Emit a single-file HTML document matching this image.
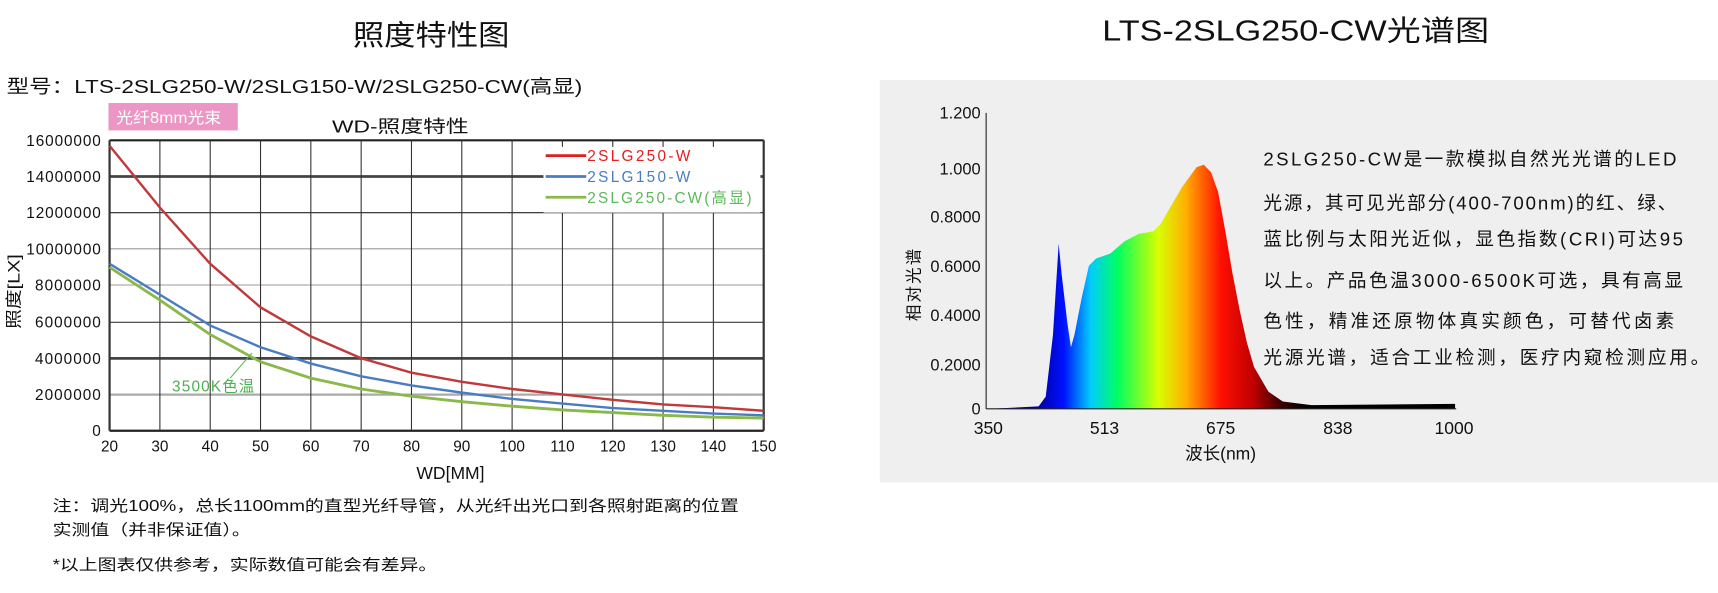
<!DOCTYPE html>
<html><head><meta charset="utf-8"><style>
body{margin:0;width:1718px;height:593px;overflow:hidden;background:#fff;font-family:"Liberation Sans","Noto Sans CJK SC",sans-serif}
#w{position:absolute;left:0;top:0;width:1568px;height:541px;transform:scale(1.0957,1.0961);transform-origin:0 0}
.t{position:absolute;white-space:nowrap;color:#111;transform-origin:0 0}
</style></head><body><div id="w">
<div class="t" style="left:322px;top:12px;font-size:26px;transform:scaleX(1.1)">照度特性图</div>
<div class="t" style="left:1006px;top:8px;font-size:26px;transform:scaleX(1.2)">LTS-2SLG250-CW光谱图</div>
<div class="t" style="left:6px;top:65px;font-size:17px;transform:scaleX(1.21)">型号：LTS-2SLG250-W/2SLG150-W/2SLG250-CW(高显)</div>
<div style="position:absolute;left:99px;top:94px;width:118px;height:25px;background:#eb96c4"></div>
<div class="t" style="left:106px;top:97px;font-size:14px;color:#fff;transform:scaleX(1.1)">光纤8mm光束</div>
<div class="t" style="left:303px;top:102px;font-size:16px;transform:scaleX(1.3)">WD-照度特性</div>
<div class="t" style="left:2px;top:300px;font-size:15px;transform:rotate(-90deg) scaleX(1.2)">照度[LX]</div>
<div class="t" style="left:380px;top:424px;font-size:16px">WD[MM]</div>
<div class="t" style="left:48px;top:451px;font-size:14px;transform:scaleX(1.23)">注：调光100%，总长1100mm的直型光纤导管，从光纤出光口到各照射距离的位置</div>
<div class="t" style="left:48px;top:473px;font-size:14px;transform:scaleX(1.23)">实测值（并非保证值）。</div>
<div class="t" style="left:48px;top:505px;font-size:14px;transform:scaleX(1.23)">*以上图表仅供参考，实际数值可能会有差异。</div>
<svg style="position:absolute;left:0;top:0" width="800" height="420" font-family="Liberation Sans,sans-serif" font-size="14">
<g stroke="#222" stroke-width="1">
<line x1="100" y1="128" x2="697" y2="128" stroke-width="2"/>
<line x1="100" y1="161" x2="697" y2="161" stroke-width="2.5" stroke="#444"/>
<line x1="100" y1="194" x2="697" y2="194"/>
<line x1="100" y1="227" x2="697" y2="227" stroke="#999"/>
<line x1="100" y1="260" x2="697" y2="260" stroke="#999"/>
<line x1="100" y1="294" x2="697" y2="294"/>
<line x1="100" y1="327" x2="697" y2="327" stroke-width="2.5" stroke="#444"/>
<line x1="100" y1="360" x2="697" y2="360" stroke-width="2" stroke="#aaa"/>
<line x1="100" y1="393" x2="697" y2="393" stroke-width="2"/>
</g>
<g stroke="#333" stroke-width="1" id="vg"></g>
<g font-size="14" fill="#111" text-anchor="end">
<text x="92" y="133" textLength="68">16000000</text><text x="92" y="166" textLength="68">14000000</text><text x="92" y="199" textLength="68">12000000</text><text x="92" y="232" textLength="68">10000000</text><text x="92" y="265" textLength="60">8000000</text><text x="92" y="299" textLength="60">6000000</text><text x="92" y="332" textLength="60">4000000</text><text x="92" y="365" textLength="60">2000000</text><text x="92" y="398">0</text>
</g>
<g id="xl" font-size="14" fill="#111" text-anchor="middle"></g>
<polyline id="r" fill="none" stroke="#c0393b" stroke-width="2.2"/>
<polyline id="b" fill="none" stroke="#4a7cc4" stroke-width="2.2"/>
<polyline id="g" fill="none" stroke="#8ab84a" stroke-width="2.6"/>
<rect x="496" y="134" width="198" height="60" fill="#fff"/>
<line x1="498" y1="142" x2="535" y2="142" stroke="#e02020" stroke-width="2.5"/>
<line x1="498" y1="161" x2="535" y2="161" stroke="#4a7cc4" stroke-width="2.5"/>
<line x1="498" y1="180" x2="535" y2="180" stroke="#8ab84a" stroke-width="2.5"/>
<text x="536" y="147" fill="#e02020" textLength="94">2SLG250-W</text>
<text x="536" y="166" fill="#4a7cc4" textLength="94">2SLG150-W</text>
<text x="536" y="185" fill="#5cb85c" textLength="150">2SLG250-CW(高显)</text>
<line x1="210" y1="345" x2="230" y2="322" stroke="#5cb85c"/>
<text x="157" y="357" fill="#4caf50" font-size="14" textLength="75">3500K色温</text>
</svg>
<div style="position:absolute;left:803px;top:73px;width:765px;height:367px;background:#efefef"></div>
<svg style="position:absolute;left:803px;top:73px" width="765" height="367" font-family="Liberation Sans,sans-serif" font-size="15">
<defs><linearGradient id="sp" gradientUnits="userSpaceOnUse" x1="143" x2="390" y1="0" y2="0">
<stop offset="0" stop-color="#0000a0"/><stop offset="0.1" stop-color="#0010ff"/><stop offset="0.2" stop-color="#00ccff"/><stop offset="0.3" stop-color="#00ff60"/><stop offset="0.45" stop-color="#d8ff00"/><stop offset="0.55" stop-color="#ffb000"/><stop offset="0.68" stop-color="#ff1000"/><stop offset="0.8" stop-color="#c00000"/><stop offset="0.9" stop-color="#400000"/><stop offset="1" stop-color="#000"/></linearGradient></defs>
<polygon id="spec" fill="url(#sp)"/>
<line x1="97" y1="30" x2="97" y2="300" stroke="#222"/>
<line x1="97" y1="300" x2="526" y2="300" stroke="#222"/>
<g text-anchor="end" fill="#111"><text x="92" y="35">1.200</text><text x="92" y="86">1.000</text><text x="92" y="130">0.8000</text><text x="92" y="175">0.6000</text><text x="92" y="220">0.4000</text><text x="92" y="265">0.2000</text><text x="92" y="305">0</text></g>
<g text-anchor="middle" fill="#111" font-size="16"><text x="99" y="323">350</text><text x="205" y="323">513</text><text x="311" y="323">675</text><text x="418" y="323">838</text><text x="524" y="323">1000</text><text x="311" y="346">波长(nm)</text></g>
<text transform="translate(36,220) rotate(-90)" font-size="15" fill="#111" letter-spacing="2">相对光谱</text>
<g font-size="17" fill="#111"><text x="350" y="78" textLength="377">2SLG250-CW是一款模拟自然光光谱的LED</text><text x="350" y="118" textLength="377">光源，其可见光部分(400-700nm)的红、绿、</text><text x="350" y="151" textLength="383">蓝比例与太阳光近似，显色指数(CRI)可达95</text><text x="350" y="189" textLength="383">以上。产品色温3000-6500K可选，具有高显</text><text x="350" y="226" textLength="375">色性，精准还原物体真实颜色，可替代卤素</text><text x="350" y="259" textLength="407">光源光谱，适合工业检测，医疗内窥检测应用。</text></g>
</svg>
</div>
<script>
var vg=document.getElementById('vg'),xl=document.getElementById('xl');
for(var i=0;i<14;i++){var x=100+i*597/13;var l=document.createElementNS('http://www.w3.org/2000/svg','line');l.setAttribute('x1',x);l.setAttribute('x2',x);l.setAttribute('y1',128);l.setAttribute('y2',393);if(i==0||i==13)l.setAttribute('stroke-width',2);vg.appendChild(l);
var t=document.createElementNS('http://www.w3.org/2000/svg','text');t.setAttribute('x',x);t.setAttribute('y',412);t.textContent=20+i*10;xl.appendChild(t);}
function pl(id,v){var p=[];for(var i=0;i<v.length;i++){p.push((100+i*597/13).toFixed(1)+','+(393-v[i]*265/16).toFixed(1));}document.getElementById(id).setAttribute('points',p.join(' '));}
pl('r',[15.7,12.3,9.2,6.8,5.2,4.0,3.2,2.7,2.3,2.0,1.7,1.45,1.3,1.1]);
pl('b',[9.2,7.5,5.8,4.6,3.7,3.0,2.5,2.1,1.75,1.5,1.25,1.1,0.95,0.85]);
pl('g',[9.0,7.2,5.3,3.8,2.9,2.3,1.9,1.6,1.35,1.15,1.0,0.85,0.75,0.7]);
var d=[[350,0],[420,0.01],[430,0.05],[440,0.3],[448,0.67],[452,0.55],[460,0.35],[465,0.25],[470,0.3],[480,0.45],[490,0.58],[500,0.61],[520,0.63],[540,0.68],[560,0.71],[580,0.72],[590,0.75],[600,0.8],[620,0.9],[640,0.98],[650,0.99],[660,0.96],[670,0.88],[680,0.72],[690,0.55],[700,0.4],[710,0.27],[720,0.17],[740,0.07],[760,0.03],[800,0.015],[1000,0.02],[1000,0]];
document.getElementById('spec').setAttribute('points',d.map(function(a){return (99+(a[0]-350)*426/650).toFixed(1)+','+(300-a[1]*225).toFixed(1)}).join(' '));
</script>
</body></html>
